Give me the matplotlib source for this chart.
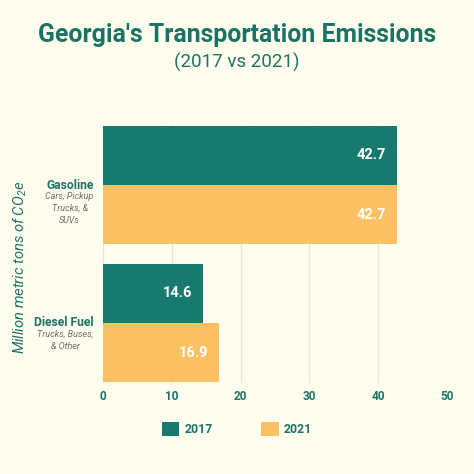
import numpy as np
import matplotlib
matplotlib.use("Agg")
import matplotlib.pyplot as plt
from matplotlib.patches import Patch

# Data
categories = ["Gasoline", "Diesel Fuel"]
subtitles = ["Cars, Pickup\nTrucks, &\nSUVs", "Trucks, Buses,\n& Other"]
years = ["2017", "2021"]
vals_2017 = [42.7, 14.6]
vals_2021 = [42.7, 16.9]
xticks = [0, 10, 20, 30, 40, 50]

teal = "#187a6e"
orange = "#fdc062"
bg = "#fffdee"
text_teal = "#1b7366"
grey = "#6e6e6e"

plt.rcParams['font.family'] = ['Roboto', 'DejaVu Sans']
plt.rcParams['mathtext.fontset'] = 'custom'
plt.rcParams['mathtext.rm'] = 'Roboto:italic'
plt.rcParams['mathtext.it'] = 'Roboto:italic'

fig = plt.figure(figsize=(4.74, 4.74), dpi=100, facecolor=bg)
ax = fig.add_axes([103/474, 1-383/474, 344/474, 258/474])
ax.set_facecolor(bg)

y = np.arange(len(categories))
h = 0.428
b1 = ax.barh(y - h/2, vals_2017, height=h, color=teal, zorder=3)
b2 = ax.barh(y + h/2, vals_2021, height=h, color=orange, zorder=3)

# value labels inside bars
for bars, vals in [(b1, vals_2017), (b2, vals_2021)]:
    for rect, v in zip(bars, vals):
        ax.text(v - 1.6, rect.get_y() + rect.get_height()/2, f"{v}",
                ha='right', va='center', color='white', fontsize=10.5,
                fontweight='bold', zorder=4)

ax.set_xlim(0, 50)
ax.set_ylim(1 + 0.435, -0.435)
ax.set_xticks(xticks)
ax.set_xticklabels([str(t) for t in xticks], color=text_teal, fontweight='bold', fontsize=8.5)
ax.tick_params(axis='x', length=0, pad=5)
ax.set_yticks([])
ax.grid(axis='x', color='#e6e4d4', linewidth=0.9, zorder=0)
for s in ax.spines.values():
    s.set_visible(False)

# category labels
trans = ax.get_yaxis_transform()
for yi, cat, sub in zip(y, categories, subtitles):
    ax.text(-0.027, yi, cat, transform=trans, ha='right', va='center',
            color=text_teal, fontweight='bold', fontsize=8.7, clip_on=False)
    ax.text(-0.027, yi + 0.05, sub, transform=trans, ha='right', va='top',
            multialignment='center', color=grey, fontstyle='italic',
            fontsize=6.5, linespacing=1.4, clip_on=False)

fig.text(20/474, 1-267/474, "Million metric tons of CO$_2$e", rotation=90,
         ha='center', va='center', color=text_teal, fontsize=10.6, fontstyle='italic')

fig.text(0.5, 1-35/474, "Georgia's Transportation Emissions", ha='center', va='center',
         color=text_teal, fontsize=17.9, fontweight='bold')
fig.text(0.5, 1-62/474, "(2017 vs 2021)", ha='center', va='center',
         color=text_teal, fontsize=13.5)

handles = [Patch(facecolor=teal), Patch(facecolor=orange)]
leg = fig.legend(handles, years, loc='center', bbox_to_anchor=(237/474, 1-429/474),
                 ncol=2, frameon=False, handlelength=1.4, handleheight=1.4,
                 columnspacing=4.0, handletextpad=0.45, fontsize=8.8)
for t in leg.get_texts():
    t.set_color(text_teal)
    t.set_fontweight('bold')

fig.savefig("out.png", dpi=100, facecolor=bg)
